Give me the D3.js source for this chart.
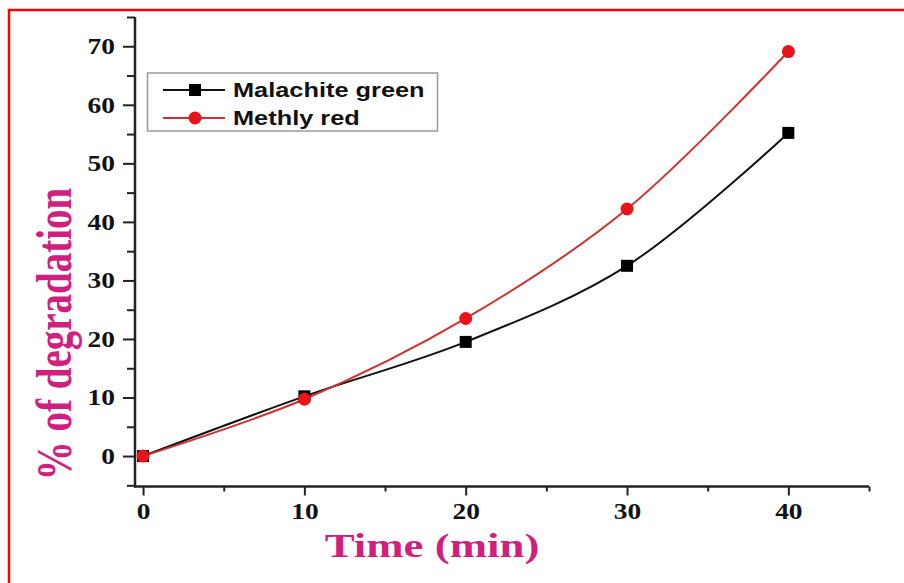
<!DOCTYPE html>
<html><head><meta charset="utf-8">
<script src="https://cdn.jsdelivr.net/npm/d3@7"></script>
<style>body{margin:0;background:#fff}svg{display:block}</style>
</head><body>
<svg id="c" width="904" height="583"></svg>
<script>
const times = [0, 10, 20, 30, 40];
const malachite = [0, 10.2, 19.5, 32.5, 55.2];
const methylRed = [0, 9.7, 23.5, 42.2, 69.1];
const seriesNames = ["Malachite green", "Methly red"];
const xTicks = [0, 10, 20, 30, 40];
const yTicks = [0, 10, 20, 30, 40, 50, 60, 70];

const svg = d3.select("#c");
svg.append("rect").attr("x", 9).attr("y", 10).attr("width", 900).attr("height", 580)
  .attr("fill", "none").attr("stroke", "#ff0000").attr("stroke-width", 2.5);

const x = d3.scaleLinear().domain([-0.5, 45]).range([135, 869]);
const y = d3.scaleLinear().domain([-5.2, 75]).range([486.5, 17]);

const serifBold = "'Liberation Serif','Times New Roman',serif";
const magenta = "#d11f80";
const SX = 1.22; // horizontal stretch of the original picture's text

// y axis
const yAxis = svg.append("g").attr("transform", "translate(135,0)")
  .call(d3.axisLeft(y).tickValues(yTicks).tickSize(12).tickPadding(8).tickFormat(d3.format("d")));
yAxis.select(".domain").remove();
yAxis.selectAll("line").attr("stroke", "#222").attr("stroke-width", 2);
yAxis.selectAll("text").attr("font-family", serifBold).attr("font-weight", "bold")
  .attr("font-size", 22.5).attr("fill", "#111")
  .attr("x", -20 / SX).attr("transform", `scale(${SX},1)`);
svg.append("g").attr("transform", "translate(135,0)")
  .call(d3.axisLeft(y).tickValues([-5, 5, 15, 25, 35, 45, 55, 65, 75]).tickSize(8).tickFormat(""))
  .call(g => g.select(".domain").remove())
  .selectAll("line").attr("stroke", "#222").attr("stroke-width", 2);

// x axis
const xAxis = svg.append("g").attr("transform", "translate(0,486.5)")
  .call(d3.axisBottom(x).tickValues(xTicks).tickSize(9).tickPadding(8).tickFormat(d3.format("d")));
xAxis.select(".domain").remove();
xAxis.selectAll("line").attr("stroke", "#222").attr("stroke-width", 2);
xAxis.selectAll("text").attr("font-family", serifBold).attr("font-weight", "bold")
  .attr("font-size", 22.5).attr("fill", "#111").attr("transform", `scale(${SX},1)`);
svg.append("g").attr("transform", "translate(0,486.5)")
  .call(d3.axisBottom(x).tickValues([5, 15, 25, 35, 45]).tickSize(5).tickFormat(""))
  .call(g => g.select(".domain").remove())
  .selectAll("line").attr("stroke", "#222").attr("stroke-width", 2);

// axis lines
svg.append("line").attr("x1", 135).attr("x2", 135).attr("y1", y(75)).attr("y2", 487.5)
  .attr("stroke", "#222").attr("stroke-width", 2.5);
svg.append("line").attr("x1", 134).attr("x2", x(45)).attr("y1", 486.5).attr("y2", 486.5)
  .attr("stroke", "#222").attr("stroke-width", 2.5);

// titles
svg.append("text").attr("transform", "translate(71,334) rotate(-90) scale(1,1.3)")
  .attr("text-anchor", "middle").attr("font-family", serifBold).attr("font-weight", "bold")
  .attr("font-size", 39).attr("fill", magenta).text("% of degradation");
svg.append("text").attr("transform", "translate(432,557) scale(1.32,1)")
  .attr("text-anchor", "middle").attr("font-family", serifBold).attr("font-weight", "bold")
  .attr("font-size", 34).attr("fill", magenta).text("Time (min)");

// lines
const line = d3.line().x(d => x(d[0])).y(d => y(d[1])).curve(d3.curveCatmullRom.alpha(0.5));
const dMal = times.map((t, i) => [t, malachite[i]]);
const dMet = times.map((t, i) => [t, methylRed[i]]);
svg.append("path").datum(dMal).attr("d", line).attr("fill", "none").attr("stroke", "#111").attr("stroke-width", 2);
svg.append("path").datum(dMet).attr("d", line).attr("fill", "none").attr("stroke", "#cf3030").attr("stroke-width", 2);

svg.selectAll(".sq").data(dMal).join("rect").attr("class", "sq")
  .attr("x", d => x(d[0]) - 6).attr("y", d => y(d[1]) - 6).attr("width", 12).attr("height", 12).attr("fill", "#000");
svg.selectAll(".ci").data(dMet).join("circle").attr("class", "ci")
  .attr("cx", d => x(d[0])).attr("cy", d => y(d[1])).attr("r", 6.5).attr("fill", "#e8141a");

// legend
const lg = svg.append("g");
lg.append("rect").attr("x", 147.5).attr("y", 73).attr("width", 290).attr("height", 58)
  .attr("fill", "#fff").attr("stroke", "#999").attr("stroke-width", 1.5);
const rows = [90, 118];
lg.append("line").attr("x1", 163).attr("x2", 225).attr("y1", rows[0]).attr("y2", rows[0]).attr("stroke", "#111").attr("stroke-width", 2);
lg.append("rect").attr("x", 189).attr("y", rows[0] - 6).attr("width", 12).attr("height", 12).attr("fill", "#000");
lg.append("line").attr("x1", 163).attr("x2", 225).attr("y1", rows[1]).attr("y2", rows[1]).attr("stroke", "#cf3030").attr("stroke-width", 2);
lg.append("circle").attr("cx", 195).attr("cy", rows[1]).attr("r", 6.5).attr("fill", "#e8141a");
lg.selectAll(".lt").data(seriesNames).join("text").attr("class", "lt")
  .attr("transform", (d, i) => `translate(233,${rows[i] + 7}) scale(1.3,1)`)
  .attr("font-family", "'Liberation Sans',Arial,sans-serif").attr("font-weight", "bold")
  .attr("font-size", 19.5).attr("fill", "#111").text(d => d);
</script>
</body></html>
